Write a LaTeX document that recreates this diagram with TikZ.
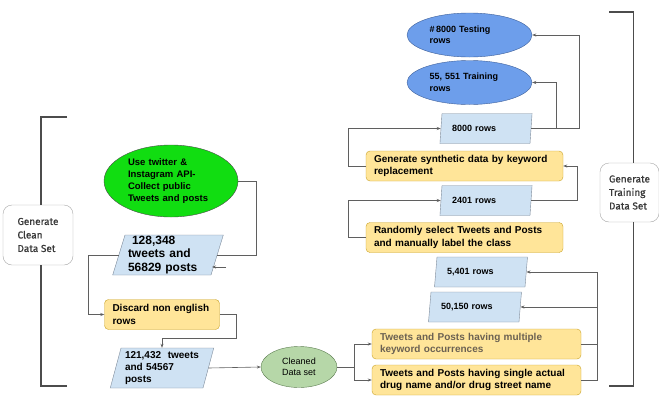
\documentclass[tikz,border=0pt]{standalone}
\usepackage{fontspec}
\setmainfont{Liberation Sans}
\newfontfamily\sidefont{Fira Sans}[FakeBold=0.8]
\usepackage{tikz}
\usetikzlibrary{shapes.geometric,arrows.meta,positioning}

\definecolor{linkgray}{HTML}{5F5F5F}
\definecolor{rowblue}{HTML}{CFE2F3}
\definecolor{rowedge}{HTML}{7D8A99}
\definecolor{stepfill}{HTML}{FFE599}
\definecolor{stepedge}{HTML}{C9A227}
\definecolor{apigreen}{HTML}{11DD11}
\definecolor{splitblue}{HTML}{6D9EEB}
\definecolor{splitedge}{HTML}{3D5F99}
\definecolor{cleangreen}{HTML}{B6D7A8}
\definecolor{cleanedge}{HTML}{5E7F52}
\definecolor{sidetext}{HTML}{3A3A3A}
\definecolor{mutedtext}{HTML}{6B6152}

\tikzset{
  link/.style={draw=linkgray, line width=0.6pt},
  arrow/.style={link, -{Stealth[length=4pt,width=3pt]}},
  bracket/.style={draw=linkgray!80!black, line width=1.8pt},
  sidebox/.style={draw=gray!70, rounded corners=9pt, fill=white, align=left,
    minimum width=70, minimum height=60, text=sidetext,
    font=\sidefont\fontsize{10}{13.5}\selectfont},
  stepbox/.style={draw=stepedge, fill=stepfill, rounded corners=4pt, align=left,
    inner xsep=8pt, minimum height=30, font=\bfseries\fontsize{10}{12.5}\selectfont},
  rowbox/.style={trapezium, trapezium left angle=72, trapezium right angle=108,
    trapezium stretches body, draw=rowedge, fill=rowblue, minimum height=30,
    text width=84, inner xsep=2pt, inner ysep=0pt, align=left,
    font=\bfseries\fontsize{9}{11}\selectfont},
  smallrow/.style={rowbox, execute at begin node={\hspace*{8pt}}},
  splitoval/.style={ellipse, draw=splitedge, fill=splitblue, minimum width=125,
    minimum height=44, text width=80, inner sep=0pt, align=left,
    font=\bfseries\fontsize{9}{11.5}\selectfont}
}

\begin{document}
\begin{tikzpicture}[x=1pt,y=-1pt]
\useasboundingbox (0,0) rectangle (659,397);

% side labels and brackets
\node[sidebox] (clean) at (38,235) {Generate\\Clean\\Data Set};
\node[sidebox, minimum width=59, minimum height=59] (train) at (629.5,192.5) {Generate\\Training\\Data Set};
\coordinate (ctop) at (67,117);
\coordinate (cbot) at (67,386);
\coordinate (ttop) at (609,12);
\coordinate (tbot) at (609,386);
\draw[bracket] (ctop) -| ([xshift=3pt]clean.north);
\draw[bracket] (cbot) -| ([xshift=3pt]clean.south);
\draw[bracket] (ttop) -| ([xshift=4pt]train.north);
\draw[bracket] (tbot) -| ([xshift=4pt]train.south);

% cleaning
\node[ellipse, draw=gray!60!black, fill=apigreen, minimum width=134, minimum height=72,
  text width=86, inner sep=0pt, align=left, font=\bfseries\fontsize{9.5}{12}\selectfont]
  (api) at (171,181) {Use twitter \&\\Instagram API-\\Collect public\\Tweets and posts};
\node[rowbox, minimum height=40, text width=80, inner xsep=3pt,
  font=\bfseries\fontsize{12}{13.5}\selectfont] (raw) at (168,255) {\ 128,348\\tweets and\\56829 posts};
\node[stepbox, text width=99] (discard) at (162,314.5) {Discard non english\\rows};
\node[rowbox, minimum height=40, text width=74, inner xsep=4pt,
  font=\bfseries\fontsize{10}{12}\selectfont] (kept) at (162,368) {121,432\ \ tweets\\and 54567\\posts};
\node[ellipse, draw=cleanedge, fill=cleangreen, minimum width=76, minimum height=41,
  align=center, font=\fontsize{9}{11}\selectfont] (cleaned) at (299,367) {Cleaned\\Data set};

% training
\node[splitoval] (test) at (469.5,35) {\#\,8000 Testing\\rows};
\node[splitoval] (trainrows) at (469.5,82.5) {55, 551 Training\\rows};
\node[smallrow] (r8000) at (486,128.5) {8000 rows};
\node[stepbox, text width=181] (synth) at (464.5,166) {Generate synthetic data by keyword\\replacement};
\node[smallrow] (r2401) at (486,200.5) {2401 rows};
\node[stepbox, text width=181] (pick) at (464.5,237.5) {Randomly select Tweets and Posts\\and manually label the class};
\node[smallrow] (r5401) at (481,272) {5,401 rows};
\node[smallrow] (r50150) at (475,307) {50,150 rows};
\node[stepbox, text width=193, text=mutedtext] (multi) at (476.5,344) {Tweets and Posts having multiple\\keyword occurrences};
\node[stepbox, text width=193] (single) at (476.5,380) {Tweets and Posts having single actual\\drug name and/or drug street name};

% connectors
\draw[link] (api.east) -- ++(18,0) |- (raw.east);
\coordinate (stray) at (226,267);
\draw[arrow] (stray) -- ++(-14,0);
\draw[arrow] (raw.west) -- ++(-30,0) |- (discard.west);
\draw[arrow] (discard.east) -- ++(17,0) -- ++(0,24) -| (kept.north);
\draw[arrow] (kept.east) -- (cleaned.west);
\draw[link] (cleaned.east) -- ++(17,0) coordinate (fork);
\draw[arrow] (fork) |- (multi.west);
\draw[arrow] (fork) |- (single.west);

\draw[arrow] (single.east) -- ++(16,0) coordinate (rjoin) |- (r5401.east);
\draw[link] (multi.east) -- (multi.east -| rjoin);
\draw[arrow] (r50150.east -| rjoin) -- (r50150.east);

\draw[arrow] (pick.west) -- ++(-18,0) |- (r2401.west);
\draw[arrow] (r2401.east) -- ++(46,0) |- (synth.east);
\draw[arrow] (synth.west) -- ++(-18,0) |- (r8000.west);
\draw[arrow] (r8000.east) -- ++(48,0) |- (test.east);
\draw[arrow] ([xshift=25pt]r8000.east) |- (trainrows.east);
\end{tikzpicture}
\end{document}
